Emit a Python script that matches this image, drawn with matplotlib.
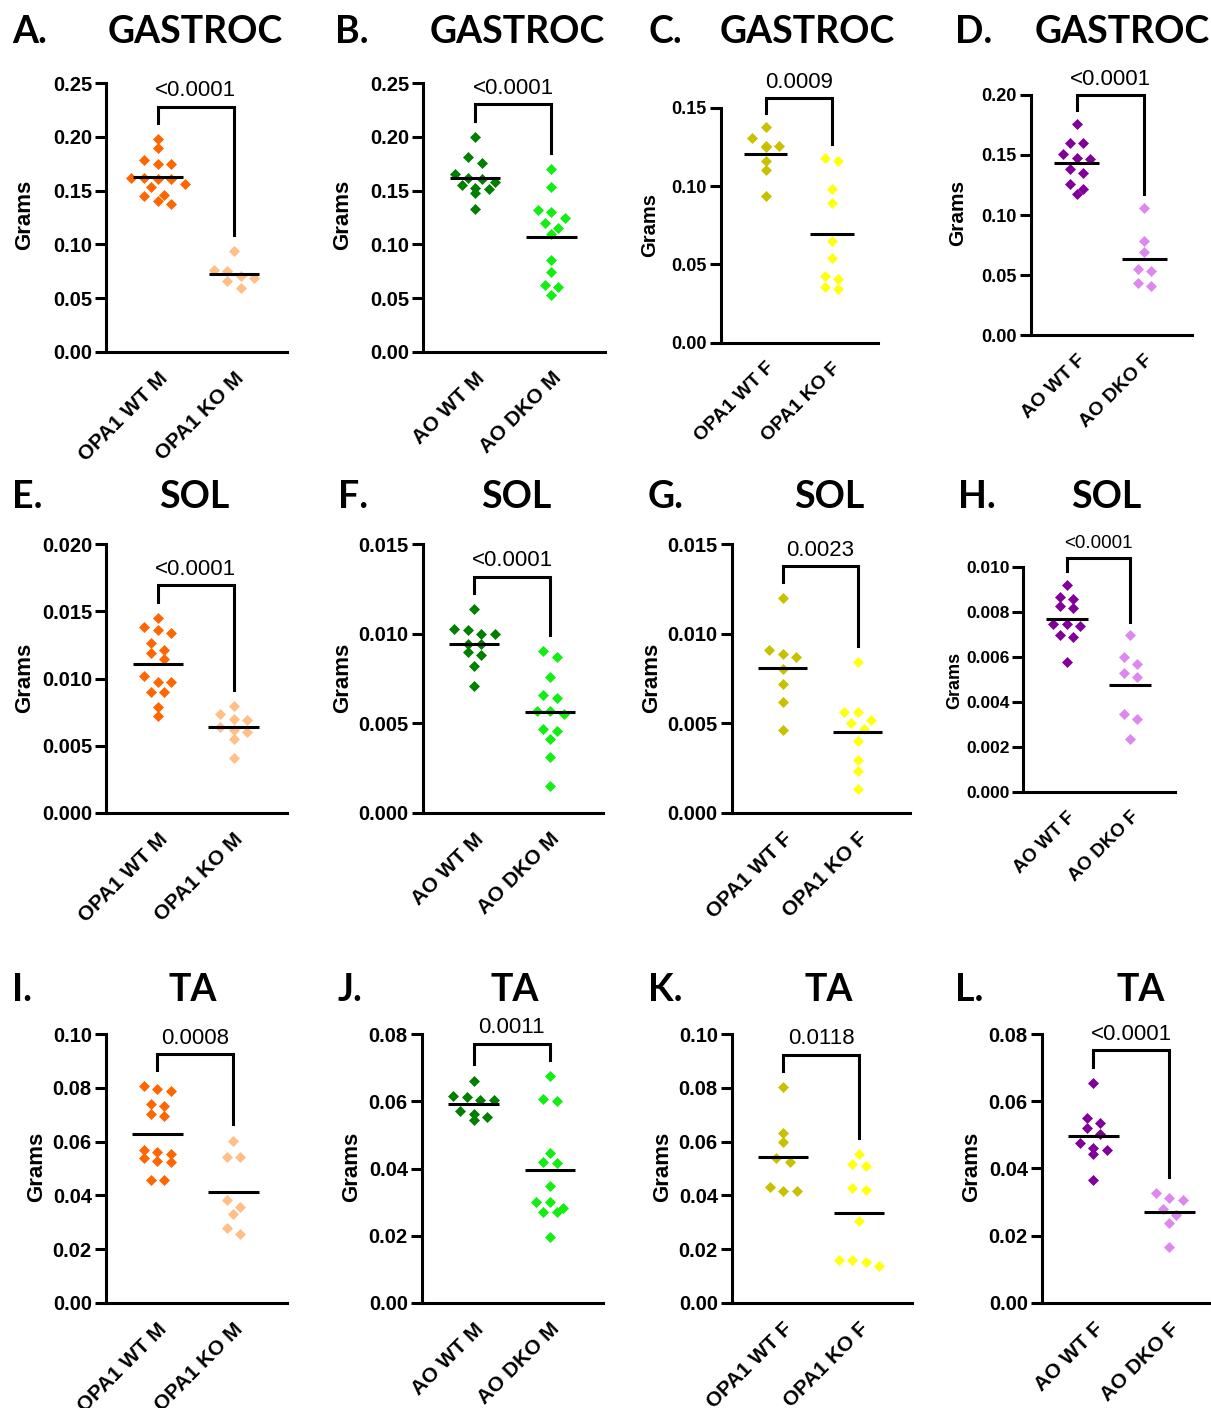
import matplotlib
matplotlib.use("Agg")
import matplotlib.pyplot as plt
import numpy as np

# ---------------- data (grams) ----------------
gastroc_opa1_wt_m = [0.198, 0.190, 0.179, 0.175, 0.175, 0.1605, 0.1605, 0.162, 0.162, 0.1565, 0.153, 0.146, 0.1447, 0.1407, 0.138]
gastroc_opa1_ko_m = [0.094, 0.0758, 0.075, 0.069, 0.0708, 0.066, 0.059]
gastroc_ao_wt_m = [0.2003, 0.181, 0.176, 0.1658, 0.162, 0.161, 0.1584, 0.1556, 0.1528, 0.152, 0.148, 0.133]
gastroc_ao_dko_m = [0.1699, 0.1537, 0.132, 0.1298, 0.1248, 0.120, 0.1155, 0.110, 0.085, 0.0742, 0.0618, 0.060, 0.0531]
gastroc_opa1_wt_f = [0.1379, 0.1306, 0.1255, 0.1255, 0.1252, 0.116, 0.1102, 0.0938]
gastroc_opa1_ko_f = [0.1177, 0.1157, 0.0983, 0.0889, 0.0649, 0.054, 0.0428, 0.0406, 0.0357, 0.0345]
gastroc_ao_wt_f = [0.1756, 0.1595, 0.1595, 0.1504, 0.1465, 0.147, 0.1382, 0.1349, 0.126, 0.1216, 0.1177]
gastroc_ao_dko_f = [0.1055, 0.0787, 0.0695, 0.0537, 0.0548, 0.0438, 0.0407]
sol_opa1_wt_m = [0.01453, 0.01381, 0.01361, 0.01339, 0.01267, 0.01212, 0.0119, 0.01143, 0.01021, 0.00976, 0.00976, 0.00897, 0.00897, 0.0079, 0.0072]
sol_opa1_ko_m = [0.00795, 0.00733, 0.00698, 0.00688, 0.00636, 0.00616, 0.00601, 0.00547, 0.00407]
sol_ao_wt_m = [0.0114, 0.01029, 0.01021, 0.01001, 0.01001, 0.00943, 0.00943, 0.00896, 0.00881, 0.0082, 0.00708]
sol_ao_dko_m = [0.00904, 0.0087, 0.0076, 0.0066, 0.00641, 0.00568, 0.00568, 0.00552, 0.0047, 0.00458, 0.0041, 0.00309, 0.00149]
sol_opa1_wt_f = [0.01198, 0.00909, 0.00889, 0.00868, 0.00801, 0.00721, 0.0062, 0.0046]
sol_opa1_ko_f = [0.0084, 0.00561, 0.00561, 0.00518, 0.00499, 0.0047, 0.00401, 0.00293, 0.00231, 0.00132]
sol_ao_wt_f = [0.00919, 0.00867, 0.00856, 0.00825, 0.00816, 0.00744, 0.00736, 0.00744, 0.00696, 0.00686, 0.00575]
sol_ao_dko_f = [0.00696, 0.00597, 0.00566, 0.00526, 0.00508, 0.00347, 0.00324, 0.00234]
ta_opa1_wt_m = [0.0806, 0.0795, 0.079, 0.0739, 0.0732, 0.0702, 0.0696, 0.057, 0.0561, 0.0553, 0.0538, 0.0528, 0.0525, 0.0457, 0.0457]
ta_opa1_ko_m = [0.0604, 0.0544, 0.0544, 0.0383, 0.0355, 0.033, 0.0277, 0.0257]
ta_ao_wt_m = [0.0662, 0.0616, 0.0612, 0.0604, 0.0604, 0.0572, 0.0561, 0.0554, 0.0545]
ta_ao_dko_m = [0.0676, 0.0606, 0.060, 0.0447, 0.0415, 0.042, 0.0349, 0.030, 0.030, 0.0281, 0.0269, 0.0269, 0.0195]
ta_opa1_wt_f = [0.0804, 0.0631, 0.0598, 0.0539, 0.0524, 0.0431, 0.0415, 0.0415]
ta_opa1_ko_f = [0.0554, 0.0518, 0.0511, 0.0429, 0.042, 0.0304, 0.016, 0.015, 0.0158, 0.0137]
ta_ao_wt_f = [0.0655, 0.0549, 0.0536, 0.052, 0.0501, 0.0476, 0.0461, 0.0454, 0.0444, 0.0364]
ta_ao_dko_f = [0.0327, 0.0305, 0.0313, 0.0278, 0.0262, 0.0236, 0.0165]

panel_letters = ["A.", "B.", "C.", "D.", "E.", "F.", "G.", "H.", "I.", "J.", "K.", "L."]
muscles = ["GASTROC"] * 4 + ["SOL"] * 4 + ["TA"] * 4
cat_labels = [["OPA1 WT M", "OPA1 KO M"], ["AO WT M", "AO DKO M"],
              ["OPA1 WT F", "OPA1 KO F"], ["AO WT F", "AO DKO F"]] * 3
p_values = ["<0.0001", "<0.0001", "0.0009", "<0.0001",
            "<0.0001", "<0.0001", "0.0023", "<0.0001",
            "0.0008", "0.0011", "0.0118", "<0.0001"]
y_max = [0.25, 0.25, 0.15, 0.20, 0.020, 0.015, 0.015, 0.010, 0.10, 0.08, 0.10, 0.08]
y_step = [0.05, 0.05, 0.05, 0.05, 0.005, 0.005, 0.005, 0.002, 0.02, 0.02, 0.02, 0.02]
y_decimals = [2, 2, 2, 2, 3, 3, 3, 3, 2, 2, 2, 2]
series = [
    (gastroc_opa1_wt_m, gastroc_opa1_ko_m), (gastroc_ao_wt_m, gastroc_ao_dko_m),
    (gastroc_opa1_wt_f, gastroc_opa1_ko_f), (gastroc_ao_wt_f, gastroc_ao_dko_f),
    (sol_opa1_wt_m, sol_opa1_ko_m), (sol_ao_wt_m, sol_ao_dko_m),
    (sol_opa1_wt_f, sol_opa1_ko_f), (sol_ao_wt_f, sol_ao_dko_f),
    (ta_opa1_wt_m, ta_opa1_ko_m), (ta_ao_wt_m, ta_ao_dko_m),
    (ta_opa1_wt_f, ta_opa1_ko_f), (ta_ao_wt_f, ta_ao_dko_f),
]
pair_colors = [("#FF6600", "#FFBF86"), ("#007F00", "#11EE11"),
               ("#C9C100", "#FFFF10"), ("#800099", "#DD88EE")] * 3

# ---------------- layout (pixels) ----------------
W, H = 1211, 1408
ax_px = [
    (106, 287, 83.3, 351.7), (423, 605, 83.3, 351.7), (720.7, 878, 107.7, 342.7), (1030.7, 1191.7, 94.7, 335.3),
    (106, 286.7, 544.3, 812.7), (422.7, 603.3, 544.3, 812.7), (731.7, 910, 544.3, 812.7), (1023.3, 1175, 566.7, 791.7),
    (105.7, 286.7, 1034.3, 1302.7), (421.7, 603.3, 1034.3, 1302.7), (731.7, 911.7, 1034.3, 1302.7), (1041.7, 1222.7, 1034, 1302.7),
]
letter_px = [(12, 32), (335, 32), (648, 32), (955, 32),
             (12, 497), (338, 497), (648, 497), (958, 497),
             (12, 990), (338, 990), (648, 990), (955, 990)]
title_px = [(195, 32), (517, 32), (807, 32), (1122, 32),
            (194, 497), (516, 497), (829, 497), (1106, 497),
            (193, 990), (515, 990), (829, 990), (1141, 990)]
ylabel_px = [(25, 215), (343, 215), (650, 225), (958, 213),
             (25, 678), (343, 678), (652, 678), (955, 680),
             (37, 1167), (352, 1167), (663, 1167), (972, 1167)]
ylabel_size = [16, 16, 14.5, 15, 16, 16, 16, 13, 16, 16, 16, 16]
tick_size = [14.5, 14.5, 13, 13, 14.5, 14.5, 14.5, 12.5, 14.5, 14.5, 14.5, 14.5]
xlab_size = [15, 15, 14, 14, 15, 15, 15, 13.5, 15, 15, 15, 15]

XLIM = (-0.68, 1.70)
TICKFONT = ["Liberation Sans", "Arial", "DejaVu Sans"]
TITLEFONT = ["Lato", "DejaVu Sans"]


def swarm_offsets(vals, ax_h_px, ymax, step, thresh_px=8.0):
    vals = np.asarray(vals, dtype=float)
    order = np.argsort(-vals, kind="stable")
    px = vals / ymax * ax_h_px
    offs = np.zeros(len(vals))
    i = 0
    while i < len(order):
        row = [order[i]]
        j = i + 1
        while j < len(order) and px[order[i]] - px[order[j]] < thresh_px:
            row.append(order[j])
            j += 1
        n = len(row)
        for k, idx in enumerate(row):
            offs[idx] = (k - (n - 1) / 2) * step
        i = j
    return offs


fig = plt.figure(figsize=(W / 100, H / 100), dpi=100)

for p in range(12):
    l, r, t, b = ax_px[p]
    ax = fig.add_axes([l / W, 1 - b / H, (r - l) / W, (b - t) / H])
    ymax = y_max[p]
    ax_h = b - t
    ax_w = r - l
    step = 13.5 / ax_w * (XLIM[1] - XLIM[0])
    half = 0.33
    wt, ko = series[p]
    for gi, vals in enumerate((wt, ko)):
        offs = swarm_offsets(vals, ax_h, ymax, step)
        ax.plot(gi + offs, vals, linestyle="none", marker="D", markersize=5.6,
                markerfacecolor=pair_colors[p][gi], markeredgecolor=pair_colors[p][gi],
                markeredgewidth=0.5, clip_on=False, zorder=3)
        m = float(np.mean(vals))
        ax.plot([gi - half, gi + half], [m, m], color="black", lw=2.2, zorder=4,
                solid_capstyle="butt")
    gap = 0.06 * ymax
    top = max(max(wt), max(ko)) + 0.12 * ymax
    ax.plot([0, 0, 1, 1], [max(wt) + gap, top, top, max(ko) + gap], color="black",
            lw=2.2, clip_on=False, solid_joinstyle="miter", zorder=5)
    ax.annotate(p_values[p], xy=(0.5, top), xytext=(0, 4), textcoords="offset points",
                ha="center", va="bottom", fontsize=16 if p != 7 else 13.5, family=TICKFONT,
                annotation_clip=False)

    ax.set_xlim(*XLIM)
    ax.set_ylim(0, ymax)
    ticks = np.round(np.arange(0, ymax + y_step[p] / 2, y_step[p]), 6)
    ax.set_yticks(ticks)
    ax.set_yticklabels([f"{v:.{y_decimals[p]}f}" for v in ticks],
                       fontsize=tick_size[p], fontweight="bold", family=TICKFONT)
    ax.set_xticks([0, 1])
    ax.set_xticklabels(cat_labels[p], rotation=45, ha="right", rotation_mode="anchor",
                       fontsize=xlab_size[p], fontweight="bold", family=TICKFONT)
    ax.tick_params(axis="y", direction="out", length=8, width=2.2, pad=2)
    ax.tick_params(axis="x", length=0, pad=12)
    for s in ("top", "right"):
        ax.spines[s].set_visible(False)
    for s in ("left", "bottom"):
        ax.spines[s].set_linewidth(2.2)
    ax.patch.set_alpha(0)

    lx, ly = letter_px[p]
    fig.text(lx / W, 1 - ly / H, panel_letters[p], fontsize=27, fontweight="bold",
             family=TITLEFONT, ha="left", va="center")
    tx, ty = title_px[p]
    fig.text(tx / W, 1 - ty / H, muscles[p], fontsize=27, fontweight="bold",
             family=TITLEFONT, ha="center", va="center")
    gx, gy = ylabel_px[p]
    fig.text(gx / W, 1 - gy / H, "Grams", fontsize=ylabel_size[p], fontweight="bold",
             family=TICKFONT, rotation=90, ha="center", va="center")

fig.savefig("out.png", dpi=100)
